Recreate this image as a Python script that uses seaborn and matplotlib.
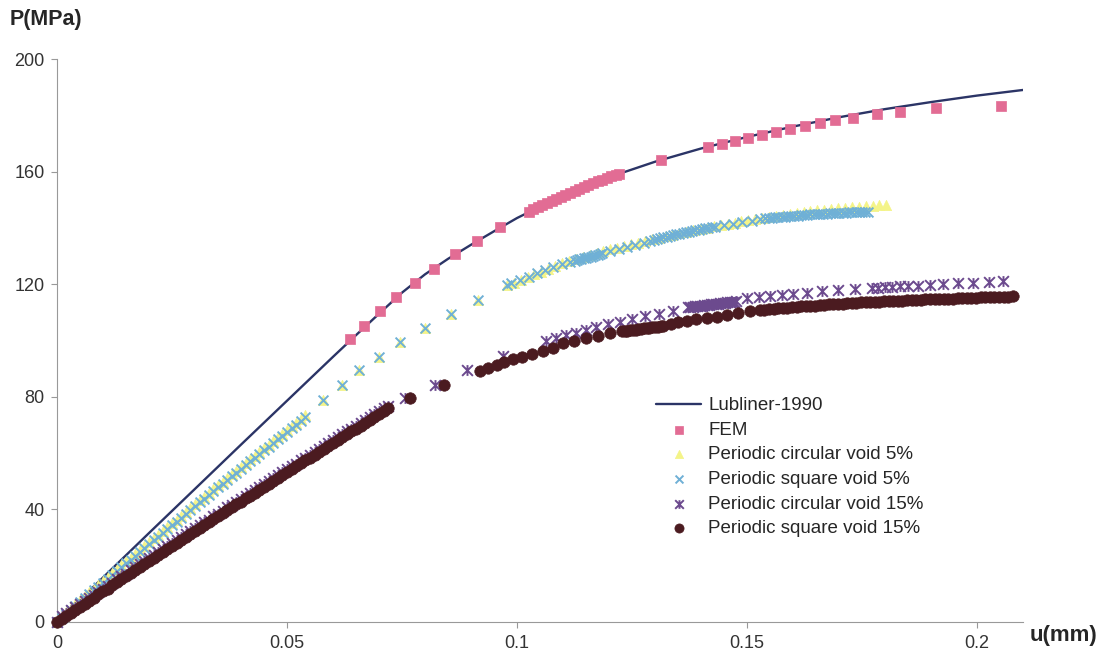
import matplotlib
matplotlib.use("Agg")
import matplotlib.pyplot as plt
from matplotlib.path import Path
import seaborn as sns

# eixos
x_ticks = [0, 0.05, 0.1, 0.15, 0.2]
x_tick_labels = ["0", "0.05", "0.1", "0.15", "0.2"]
y_ticks = [0, 40, 80, 120, 160, 200]
y_tick_labels = ["0", "40", "80", "120", "160", "200"]

# Lubliner-1990 (curva)
lub_u = [0, 0.01, 0.02, 0.03, 0.04, 0.05, 0.06, 0.065, 0.07, 0.075, 0.08, 0.085, 0.09, 0.095, 0.1,
         0.11, 0.12, 0.13, 0.14, 0.15, 0.16, 0.17, 0.18, 0.19, 0.2, 0.21]
lub_p = [0, 15.8, 31.6, 47.3, 63.0, 78.6, 94.2, 101.9, 109.5, 117.0, 123.5, 129.0, 134.0, 138.8, 143.5,
         151.6, 158.0, 163.5, 168.2, 172.3, 176.0, 179.3, 182.2, 184.7, 187.0, 189.0]

# FEM
fem_u = [0.0637, 0.0668, 0.0702, 0.0738, 0.0778, 0.0820, 0.0865, 0.0914, 0.0963,
         0.1025, 0.1035, 0.1045, 0.1055, 0.1065, 0.1075, 0.1085, 0.1095, 0.1105, 0.1115, 0.1125,
         0.1135, 0.1145, 0.1155, 0.1165, 0.1175, 0.1185, 0.1195, 0.1205, 0.1215, 0.1222,
         0.1313, 0.1415, 0.1446, 0.1474, 0.1502, 0.1533, 0.1563, 0.1593, 0.1626, 0.1659, 0.1691,
         0.1730, 0.1783, 0.1833, 0.1911, 0.2052]
fem_p = [100.5, 105.3, 110.6, 115.3, 120.5, 125.4, 130.6, 135.5, 140.2,
         145.8, 146.6, 147.4, 148.1, 148.9, 149.6, 150.4, 151.1, 151.8, 152.5, 153.2,
         153.9, 154.5, 155.2, 155.8, 156.5, 157.1, 157.7, 158.3, 158.9, 159.3,
         164.1, 168.7, 169.8, 170.9, 171.9, 173.0, 174.0, 175.1, 176.2, 177.3, 178.3,
         179.0, 180.5, 181.2, 182.6, 183.3]

# vazios 5% - trecho inicial denso (mesmos u para os dois)
u5_start = [0.000, 0.001, 0.002, 0.003, 0.004, 0.005, 0.006, 0.007, 0.008, 0.009,
            0.010, 0.011, 0.012, 0.013, 0.014, 0.015, 0.016, 0.017, 0.018, 0.019,
            0.020, 0.021, 0.022, 0.023, 0.024, 0.025, 0.026, 0.027, 0.028, 0.029,
            0.030, 0.031, 0.032, 0.033, 0.034, 0.035, 0.036, 0.037, 0.038, 0.039,
            0.040, 0.041, 0.042, 0.043, 0.044, 0.045, 0.046, 0.047, 0.048, 0.049,
            0.050, 0.051, 0.052, 0.053, 0.054]
sq5_p_start = [0, 1.4, 2.8, 4.2, 5.6, 7.0, 8.4, 9.8, 11.2, 12.5,
               13.9, 15.3, 16.7, 18.0, 19.4, 20.8, 22.1, 23.5, 24.9, 26.2,
               27.6, 29.0, 30.3, 31.7, 33.0, 34.4, 35.7, 37.1, 38.4, 39.8,
               41.1, 42.5, 43.8, 45.1, 46.5, 47.8, 49.1, 50.5, 51.8, 53.1,
               54.4, 55.8, 57.1, 58.4, 59.7, 61.0, 62.3, 63.6, 64.9, 66.2,
               67.5, 68.8, 70.1, 71.4, 72.7]
circ5_p_start = [0, 2.1, 3.5, 4.9, 6.3, 7.7, 9.1, 10.5, 11.9, 13.2,
                 14.6, 16.0, 17.4, 18.7, 20.1, 21.5, 22.8, 24.2, 25.6, 26.9,
                 28.3, 29.7, 31.0, 32.4, 33.7, 35.1, 36.4, 37.8, 39.1, 40.5,
                 41.8, 43.2, 44.5, 45.8, 47.2, 48.5, 49.8, 51.2, 52.5, 53.8,
                 55.1, 56.5, 57.8, 59.1, 60.4, 61.7, 63.0, 64.3, 65.6, 66.9,
                 68.2, 69.5, 70.8, 72.1, 73.4]
# pontos esparsos (comuns)
u5_mid = [0.0578, 0.0619, 0.0657, 0.0701, 0.0746, 0.0799, 0.0856, 0.0916, 0.0978]
p5_mid = [78.9, 84.2, 89.5, 94.3, 99.6, 104.3, 109.3, 114.4, 119.7]

# Periodic square void 5% - trecho final
sq5_u_end = [0.0988, 0.1007, 0.1025, 0.1043, 0.1061, 0.1079, 0.1097, 0.1115,
             0.1125, 0.1130, 0.1135, 0.1140, 0.1145, 0.1150, 0.1155, 0.1160, 0.1165, 0.1170, 0.1175, 0.1180,
             0.1185, 0.1203, 0.1221, 0.1239, 0.1257, 0.1275,
             0.1290, 0.1297, 0.1304, 0.1311, 0.1318, 0.1325, 0.1332, 0.1339, 0.1346, 0.1353, 0.1360,
             0.1367, 0.1374, 0.1381, 0.1388, 0.1395, 0.1402, 0.1409, 0.1416, 0.1423, 0.1430,
             0.1450, 0.1470, 0.1490, 0.1510, 0.1528,
             0.1540, 0.1547, 0.1554, 0.1561, 0.1568, 0.1575, 0.1582, 0.1589, 0.1596, 0.1603, 0.1610,
             0.1617, 0.1624, 0.1631, 0.1638, 0.1645, 0.1652, 0.1659, 0.1666, 0.1673, 0.1680, 0.1687,
             0.1694, 0.1701, 0.1708, 0.1715, 0.1722, 0.1729, 0.1736, 0.1743, 0.1750, 0.1757, 0.1764]
sq5_p_end = [120.3, 121.5, 122.7, 123.9, 125.0, 126.2, 127.2, 128.0,
             128.4, 128.6, 128.8, 129.0, 129.2, 129.4, 129.6, 129.8, 130.0, 130.2, 130.4, 130.6,
             131.0, 131.8, 132.6, 133.3, 134.0, 134.7,
             135.5, 135.8, 136.0, 136.3, 136.6, 136.9, 137.1, 137.4, 137.7, 137.9, 138.2,
             138.4, 138.7, 138.9, 139.1, 139.4, 139.6, 139.8, 140.0, 140.2, 140.4,
             140.9, 141.5, 142.0, 142.6, 143.1,
             143.4, 143.5, 143.6, 143.7, 143.8, 143.9, 144.0, 144.1, 144.2, 144.3, 144.4,
             144.5, 144.6, 144.7, 144.8, 144.85, 144.9, 145.0, 145.05, 145.1, 145.2, 145.25,
             145.3, 145.35, 145.4, 145.45, 145.5, 145.55, 145.6, 145.65, 145.7, 145.75, 145.8]

# Periodic circular void 5% - trecho final
circ5_u_end = [0.0993, 0.1008, 0.1023, 0.1038, 0.1053, 0.1068, 0.1083, 0.1098, 0.1113, 0.1128,
               0.1143, 0.1158, 0.1173, 0.1188, 0.1203, 0.1218, 0.1233, 0.1248, 0.1263, 0.1278,
               0.1293, 0.1308, 0.1323, 0.1338, 0.1353, 0.1368, 0.1383, 0.1398, 0.1413, 0.1428,
               0.1443, 0.1458, 0.1473, 0.1488, 0.1503, 0.1518, 0.1533, 0.1548, 0.1563, 0.1578,
               0.1593, 0.1608, 0.1623, 0.1638, 0.1653, 0.1668, 0.1683, 0.1698, 0.1713, 0.1728,
               0.1743, 0.1758, 0.1773, 0.1788, 0.1803]
circ5_p_end = [120.6, 121.6, 122.6, 123.5, 124.5, 125.4, 126.4, 127.4, 128.2, 128.9,
               129.5, 130.3, 131.0, 131.7, 132.4, 133.0, 133.6, 134.2, 134.8, 135.4,
               135.9, 136.5, 137.0, 137.6, 138.1, 138.6, 139.1, 139.6, 140.1, 140.5,
               141.0, 141.4, 141.9, 142.3, 142.7, 143.1, 143.6, 144.0, 144.3, 144.7,
               145.0, 145.4, 145.7, 146.0, 146.3, 146.5, 146.8, 147.0, 147.2, 147.4,
               147.6, 147.7, 147.9, 148.0, 148.1]

# vazios 15% - trecho inicial denso
u15_start = [0.000, 0.001, 0.002, 0.003, 0.004, 0.005, 0.006, 0.007, 0.008, 0.009,
             0.010, 0.011, 0.012, 0.013, 0.014, 0.015, 0.016, 0.017, 0.018, 0.019,
             0.020, 0.021, 0.022, 0.023, 0.024, 0.025, 0.026, 0.027, 0.028, 0.029,
             0.030, 0.031, 0.032, 0.033, 0.034, 0.035, 0.036, 0.037, 0.038, 0.039,
             0.040, 0.041, 0.042, 0.043, 0.044, 0.045, 0.046, 0.047, 0.048, 0.049,
             0.050, 0.051, 0.052, 0.053, 0.054, 0.055, 0.056, 0.057, 0.058, 0.059,
             0.060, 0.061, 0.062, 0.063, 0.064, 0.065, 0.066, 0.067, 0.068, 0.069,
             0.070, 0.071, 0.072]
sq15_p_start = [0, 1.1, 2.2, 3.3, 4.4, 5.4, 6.5, 7.6, 8.7, 9.8,
                10.9, 11.9, 13.0, 14.1, 15.2, 16.2, 17.3, 18.4, 19.5, 20.5,
                21.6, 22.7, 23.7, 24.8, 25.9, 26.9, 28.0, 29.1, 30.1, 31.2,
                32.3, 33.3, 34.4, 35.4, 36.5, 37.5, 38.6, 39.7, 40.7, 41.8,
                42.8, 43.9, 44.9, 46.0, 47.0, 48.0, 49.1, 50.1, 51.2, 52.2,
                53.3, 54.3, 55.3, 56.4, 57.4, 58.4, 59.5, 60.5, 61.5, 62.6,
                63.6, 64.6, 65.7, 66.7, 67.7, 68.7, 69.8, 70.8, 71.8, 72.8,
                73.9, 74.9, 75.9]
circ15_p_start = [0, 2.1, 3.2, 4.3, 5.4, 6.4, 7.5, 8.6, 9.7, 10.8,
                  11.9, 12.9, 14.0, 15.1, 16.2, 17.2, 18.3, 19.4, 20.5, 21.5,
                  22.6, 23.7, 24.7, 25.8, 26.9, 27.9, 29.0, 30.1, 31.1, 32.2,
                  33.3, 34.3, 35.4, 36.4, 37.5, 38.5, 39.6, 40.7, 41.7, 42.8,
                  43.8, 44.9, 45.9, 47.0, 48.0, 49.0, 50.1, 51.1, 52.2, 53.2,
                  54.3, 55.3, 56.3, 57.4, 58.4, 59.4, 60.5, 61.5, 62.5, 63.6,
                  64.6, 65.6, 66.7, 67.7, 68.7, 69.7, 70.8, 71.8, 72.8, 73.8,
                  74.9, 75.9, 76.9]

# Periodic square void 15% - resto
sq15_u_end = [0.0767, 0.0841, 0.0920, 0.0938, 0.0956, 0.0972, 0.0991, 0.1010, 0.1032, 0.1056,
              0.1079, 0.1101, 0.1123, 0.1151, 0.1175, 0.1202,
              0.1228, 0.1234, 0.1240, 0.1246, 0.1252, 0.1258, 0.1264, 0.1270, 0.1276, 0.1282,
              0.1288, 0.1294, 0.1300, 0.1306, 0.1312, 0.1318,
              0.1335, 0.1351, 0.1370, 0.1390, 0.1412, 0.1434, 0.1456, 0.1481, 0.1507,
              0.1528, 0.1538, 0.1548, 0.1558, 0.1568, 0.1578, 0.1588, 0.1598, 0.1608, 0.1618,
              0.1628, 0.1638, 0.1648, 0.1658, 0.1668, 0.1678, 0.1688, 0.1698, 0.1708, 0.1718,
              0.1728, 0.1738, 0.1748, 0.1758, 0.1768, 0.1778, 0.1788, 0.1798, 0.1808, 0.1818,
              0.1828, 0.1838, 0.1848, 0.1858, 0.1868, 0.1878, 0.1888, 0.1898, 0.1908, 0.1918,
              0.1928, 0.1938, 0.1948, 0.1958, 0.1968, 0.1978, 0.1988, 0.1998, 0.2008, 0.2018,
              0.2028, 0.2038, 0.2048, 0.2058, 0.2068, 0.2078]
sq15_p_end = [79.5, 84.2, 89.3, 90.1, 91.3, 92.3, 93.3, 94.2, 95.3, 96.3,
              97.3, 99.0, 99.9, 100.9, 101.7, 102.5,
              103.2, 103.3, 103.5, 103.6, 103.7, 103.9, 104.0, 104.1, 104.3, 104.4,
              104.5, 104.7, 104.8, 104.9, 105.1, 105.2,
              105.9, 106.5, 107.0, 107.5, 108.0, 108.5, 109.1, 109.8, 110.4,
              110.8, 111.0, 111.1, 111.3, 111.4, 111.6, 111.7, 111.9, 112.0, 112.1,
              112.2, 112.3, 112.4, 112.5, 112.6, 112.8, 112.9, 113.0, 113.1, 113.2,
              113.3, 113.4, 113.5, 113.6, 113.6, 113.7, 113.8, 113.9, 114.0, 114.1,
              114.1, 114.2, 114.3, 114.4, 114.4, 114.5, 114.6, 114.6, 114.7, 114.7,
              114.8, 114.9, 114.9, 115.0, 115.0, 115.1, 115.1, 115.2, 115.3, 115.3,
              115.4, 115.4, 115.5, 115.5, 115.6, 115.7]

# Periodic circular void 15% - resto
circ15_u_end = [0.0757, 0.0822, 0.0891, 0.0970, 0.1063, 0.1085, 0.1106, 0.1128, 0.1150, 0.1172,
                0.1197, 0.1223, 0.1249, 0.1278, 0.1308, 0.1340,
                0.1372, 0.1377, 0.1382, 0.1387, 0.1392, 0.1397, 0.1402, 0.1407, 0.1412, 0.1417,
                0.1422, 0.1427, 0.1432, 0.1437, 0.1442, 0.1447, 0.1452, 0.1457, 0.1462, 0.1467,
                0.1472, 0.1477,
                0.1500, 0.1525, 0.1550, 0.1575, 0.1600, 0.1630, 0.1662, 0.1698, 0.1735, 0.1771,
                0.1785, 0.1800, 0.1815, 0.1833, 0.1851, 0.1872, 0.1898, 0.1927, 0.1959, 0.1992,
                0.2025, 0.2057]
circ15_p_end = [79.5, 84.2, 89.5, 94.6, 100.0, 100.8, 101.9, 102.8, 103.8, 104.8,
                105.7, 106.7, 107.5, 108.6, 109.4, 110.4,
                111.8, 111.9, 112.0, 112.1, 112.2, 112.3, 112.4, 112.5, 112.6, 112.7,
                112.8, 112.9, 113.0, 113.1, 113.2, 113.3, 113.4, 113.5, 113.6, 113.7,
                113.8, 113.9,
                115.0, 115.3, 115.8, 116.2, 116.6, 117.0, 117.5, 117.9, 118.3, 118.7,
                118.8, 118.9, 119.0, 119.2, 119.3, 119.5, 119.7, 120.0, 120.3, 120.6,
                120.8, 121.0]

circ5_u = u5_start + u5_mid + circ5_u_end
circ5_p = circ5_p_start + p5_mid + circ5_p_end
sq5_u = u5_start + u5_mid + sq5_u_end
sq5_p = sq5_p_start + p5_mid + sq5_p_end
circ15_u = u15_start + circ15_u_end
circ15_p = circ15_p_start + circ15_p_end
sq15_u = u15_start + sq15_u_end
sq15_p = sq15_p_start + sq15_p_end

# marcador "estrela" do Excel: X com traço vertical
star = Path([(-1, -1), (1, 1), (-1, 1), (1, -1), (0, -1), (0, 1)],
            [Path.MOVETO, Path.LINETO, Path.MOVETO, Path.LINETO, Path.MOVETO, Path.LINETO])

sns.set_style("ticks")
plt.rcParams['font.family'] = ['Liberation Sans', 'DejaVu Sans']

fig = plt.figure(figsize=(11.04, 6.62), dpi=100)
ax = fig.add_axes([57 / 1104, 40 / 662, 966 / 1104, 563 / 662])

sns.lineplot(x=lub_u, y=lub_p, color="#2b3466", linewidth=1.7, ax=ax, label="Lubliner-1990", zorder=2)
sns.scatterplot(x=fem_u, y=fem_p, marker="s", s=52, color="#e26c94", edgecolor="#e26c94",
                linewidth=0.5, ax=ax, label="FEM", zorder=3, clip_on=False)
sns.scatterplot(x=circ5_u, y=circ5_p, marker="^", s=55, color="#f4f488", edgecolor="#f4f488",
                linewidth=0.5, ax=ax, label="Periodic circular void 5%", zorder=3, clip_on=False)
sns.scatterplot(x=sq5_u, y=sq5_p, marker="x", s=50, color="#6fb0d6", linewidth=1.4,
                ax=ax, label="Periodic square void 5%", zorder=4, clip_on=False)
sns.scatterplot(x=circ15_u, y=circ15_p, marker=star, s=60, color="#6c4a8e", edgecolor="#6c4a8e",
                linewidth=1.4, ax=ax, label="Periodic circular void 15%", zorder=5, clip_on=False)
sns.scatterplot(x=sq15_u, y=sq15_p, marker="o", s=68, color="#4b1b20", edgecolor="#4b1b20",
                linewidth=0.5, ax=ax, label="Periodic square void 15%", zorder=6, clip_on=False)

ax.set_xlim(0, 0.21)
ax.set_ylim(0, 200)
ax.set_xticks(x_ticks)
ax.set_xticklabels(x_tick_labels)
ax.set_yticks(y_ticks)
ax.set_yticklabels(y_tick_labels)
ax.set_xlabel("")
ax.set_ylabel("")
ax.tick_params(length=4, width=0.8, color="#999999", labelsize=13, labelcolor="#333333", pad=5)
for side in ["top", "right"]:
    ax.spines[side].set_visible(False)
for side in ["left", "bottom"]:
    ax.spines[side].set_color("#999999")
    ax.spines[side].set_linewidth(0.8)

ax.legend(loc="upper left", bbox_to_anchor=(656 / 1104, 1 - 397 / 662), bbox_transform=fig.transFigure,
          frameon=False, fontsize=13.5, handlelength=2.4, labelspacing=0.4, handletextpad=0.4,
          borderpad=0, borderaxespad=0, markerscale=0.8)

fig.text(10 / 1104, 1 - 20 / 662, "P(MPa)", fontsize=15.5, fontweight="bold", va="center", ha="left")
fig.text(1030 / 1104, 1 - 635 / 662, "u(mm)", fontsize=16, fontweight="bold", va="center", ha="left")

fig.savefig("out.png", dpi=100)
